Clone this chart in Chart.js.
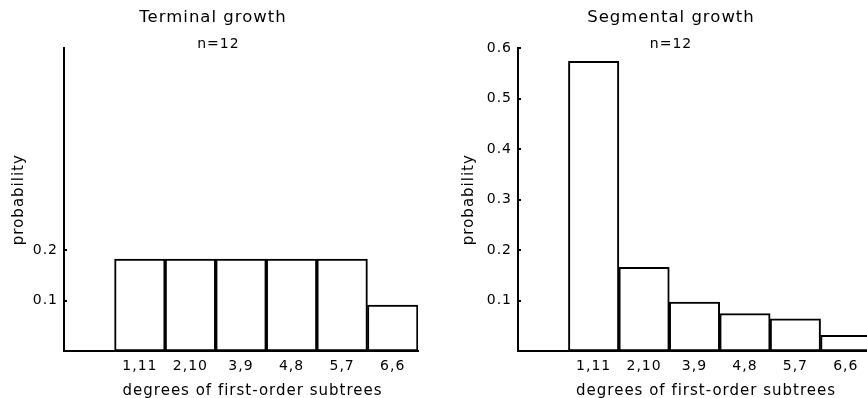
<!DOCTYPE html>
<html>
<head>
<meta charset="utf-8">
<script src="https://cdn.jsdelivr.net/npm/chart.js@4/dist/chart.umd.min.js"></script>
<style>
  html, body { margin: 0; padding: 0; background: #fff; overflow: hidden; width: 867px; height: 398px; }
  .wrap { position: absolute; top: 0; height: 398px; }
  #w1 { left: 0; width: 430px; }
  #w2 { left: 455px; width: 416px; }
</style>
</head>
<body>
<div class="wrap" id="w1"><canvas id="c1"></canvas></div>
<div class="wrap" id="w2"><canvas id="c2"></canvas></div>
<script>
// ---- data ----
const categories = ['', '1,11', '2,10', '3,9', '4,8', '5,7', '6,6'];
const terminalValues = [null, 0.182, 0.182, 0.182, 0.182, 0.182, 0.091];
const segmentalValues = [null, 0.574, 0.166, 0.097, 0.074, 0.064, 0.031];
const terminalTicks = [0.1, 0.2];
const segmentalTicks = [0.1, 0.2, 0.3, 0.4, 0.5, 0.6];
const terminalTitle = 'Terminal growth';
const segmentalTitle = 'Segmental growth';
const subtitleText = 'n=12';
const xTitle = 'degrees of first-order subtrees';
const yTitle = 'probability';

Chart.defaults.font.family = "'DejaVu Sans', sans-serif";
Chart.defaults.color = '#000';
Chart.defaults.animation = false;

const spacingPlugin = {
  id: 'spacing',
  beforeUpdate(chart) { chart.ctx.letterSpacing = '1px'; },
  beforeLayout(chart) { chart.ctx.letterSpacing = '1px'; },
  beforeDraw(chart) { chart.ctx.letterSpacing = '1px'; }
};

function makeChart(id, title, values, ticks, padLeft, padRight, yWidth, yTitlePad, subShift) {
  return new Chart(document.getElementById(id), {
    type: 'bar',
    data: {
      labels: categories,
      datasets: [{
        data: values,
        backgroundColor: '#fff',
        borderColor: '#000',
        borderWidth: 2,
        borderSkipped: false,
        categoryPercentage: 1,
        barPercentage: 1
      }]
    },
    plugins: [spacingPlugin],
    options: {
      responsive: true,
      maintainAspectRatio: false,
      layout: { padding: { left: padLeft, right: padRight, top: 0, bottom: 0 } },
      plugins: {
        legend: { display: false },
        tooltip: { enabled: false },
        title: {
          display: true, text: title,
          font: { size: 16.5, weight: 'normal', lineHeight: 1.2 },
          padding: { top: 8, bottom: 0 }
        },
        subtitle: {
          display: true, text: subShift + subtitleText,
          font: { size: 14, weight: 'normal', lineHeight: '8px' },
          padding: { top: 12.5, bottom: 0 }
        }
      },
      scales: {
        x: {
          grid: { display: true, drawOnChartArea: false, drawTicks: false },
          border: { display: true, color: '#000', width: 2 },
          ticks: { font: { size: 14 }, padding: 7, maxRotation: 0, autoSkip: false },
          title: {
            display: true, text: '\u00a0\u00a0\u00a0\u00a0' + xTitle,
            font: { size: 15, lineHeight: 1.2 },
            padding: { top: 0, bottom: -2 }
          },
          afterFit(s) { s.height = 47; }
        },
        y: {
          min: 0, max: 0.6,
          afterBuildTicks(s) { s.ticks = ticks.map(v => ({ value: v })); },
          grid: { display: true, drawOnChartArea: false, drawTicks: true, tickLength: -3, color: '#000', lineWidth: 2 },
          border: { display: true, color: '#000', width: 2 },
          ticks: { font: { size: 14 }, padding: 9, callback: v => v.toFixed(1) },
          title: {
            display: true, text: yTitle,
            font: { size: 15, lineHeight: 1.2 },
            padding: { top: yTitlePad, bottom: 0 }
          },
          afterFit(s) { s.width = yWidth; }
        }
      }
    }
  });
}

makeChart('c1', terminalTitle, terminalValues, terminalTicks, 8, 12, 56, 2.5, '\u00a0\u00a0');
makeChart('c2', segmentalTitle, segmentalValues, segmentalTicks, 16, 0, 47, -11, '');
</script>
</body>
</html>
